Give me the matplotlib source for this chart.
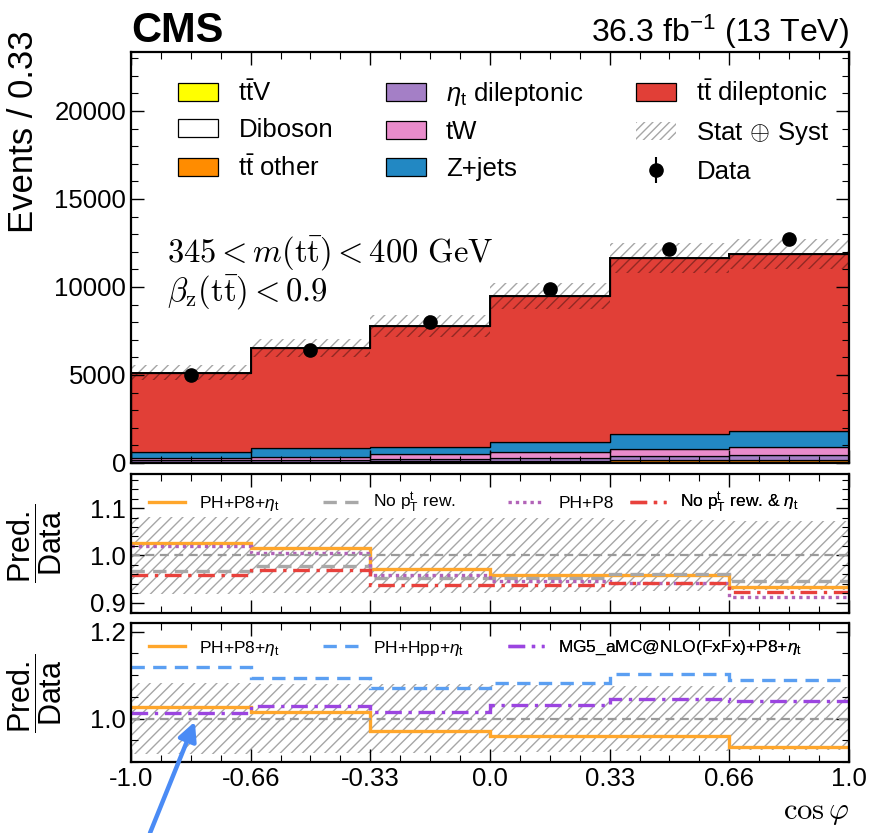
import numpy as np
import matplotlib
matplotlib.use("Agg")
import matplotlib.pyplot as plt
from matplotlib.patches import Patch
from matplotlib.lines import Line2D

# binning in cos(phi)
edges = np.array([-1.0, -2/3, -1/3, 0.0, 1/3, 2/3, 1.0])
tick_labels = ["-1.0", "-0.66", "-0.33", "0.0", "0.33", "0.66", "1.0"]

# stacked backgrounds, events per bin (bottom to top)
ttv = [20, 20, 20, 20, 25, 25]
diboson = [10, 10, 15, 15, 20, 20]
tt_other = [50, 50, 60, 80, 120, 110]
eta_dilep = [80, 100, 130, 170, 230, 300]
tw = [130, 180, 265, 360, 415, 435]
zjets = [320, 475, 430, 570, 835, 945]
tt_dilep = [4515, 5680, 6866, 8280, 10005, 10040]

data = [4990, 6420, 8010, 9890, 12160, 12730]
unc = [0.082, 0.080, 0.080, 0.078, 0.075, 0.073]  # relative stat+syst

# pred / data, upper ratio panel
r_ph_p8_eta = [1.027, 1.015, 0.971, 0.959, 0.959, 0.934]
r_no_pt = [0.966, 0.978, 0.952, 0.952, 0.961, 0.945]
r_ph_p8 = [1.020, 1.005, 0.959, 0.945, 0.942, 0.912]
r_no_pt_eta = [0.959, 0.969, 0.937, 0.937, 0.942, 0.922]

# pred / data, lower ratio panel
r_ph_hpp_eta = [1.118, 1.093, 1.070, 1.082, 1.102, 1.089]
r_mg5_eta = [1.013, 1.028, 1.015, 1.031, 1.046, 1.040]

stack = [
    (ttv, "#FFFF00", r"$\mathrm{t\bar{t}}$V"),
    (diboson, "#FFFFFF", "Diboson"),
    (tt_other, "#FF8C00", r"$\mathrm{t\bar{t}}$ other"),
    (eta_dilep, "#A47FC6", r"$\eta_\mathrm{t}$ dileptonic"),
    (tw, "#E98CCB", "tW"),
    (zjets, "#2288C3", "Z+jets"),
    (tt_dilep, "#E13F37", r"$\mathrm{t\bar{t}}$ dileptonic"),
]

plt.rcParams["font.family"] = ["Liberation Sans", "DejaVu Sans"]
plt.rcParams["mathtext.fontset"] = "custom"
plt.rcParams["mathtext.rm"] = "Liberation Sans"
plt.rcParams["mathtext.it"] = "Liberation Sans:italic"
plt.rcParams["mathtext.bf"] = "Liberation Sans:bold"
plt.rcParams["axes.linewidth"] = 1.6
for ax_name in ["xtick", "ytick"]:
    plt.rcParams[ax_name + ".direction"] = "in"
    plt.rcParams[ax_name + ".major.size"] = 9.5
    plt.rcParams[ax_name + ".minor.size"] = 5
    plt.rcParams[ax_name + ".major.width"] = 1.0
    plt.rcParams[ax_name + ".minor.width"] = 0.8
    plt.rcParams[ax_name + ".labelsize"] = 18.5
plt.rcParams["xtick.top"] = True
plt.rcParams["ytick.right"] = True
plt.rcParams["xtick.minor.visible"] = True
plt.rcParams["ytick.minor.visible"] = True

hatch_col = (0, 0, 0, 0.35)

fig = plt.figure(figsize=(8.71, 8.33), dpi=100)
ax1 = fig.add_axes([0.1504, 0.4442, 0.8243, 0.4934])
ax2 = fig.add_axes([0.1504, 0.2645, 0.8243, 0.1665])
ax3 = fig.add_axes([0.1504, 0.0852, 0.8243, 0.1669])

# --- main panel ---
bottom = np.zeros(len(data))
handles = []
for vals, col, lab in stack:
    top = bottom + np.array(vals)
    ax1.stairs(top, edges, baseline=bottom, fill=True, facecolor=col,
               edgecolor="black", lw=0.9)
    handles.append(Patch(facecolor=col, edgecolor="black", lw=0.9, label=lab))
    bottom = top
mc = bottom
ax1.stairs(mc, edges, color="black", lw=1.4, baseline=None)

u = np.array(unc)
ax1.stairs(mc * (1 + u), edges, baseline=mc * (1 - u), fill=True,
           facecolor="none", edgecolor=hatch_col, hatch="///", lw=0)

centers = 0.5 * (edges[1:] + edges[:-1])
eb = ax1.errorbar(centers, data, yerr=np.sqrt(data), fmt="o", color="black",
                  ms=9.5, elinewidth=1.5, capsize=0)

unc_patch = Patch(facecolor="none", edgecolor=hatch_col, hatch="////", lw=0,
                  label=r"Stat$\,\oplus\,$Syst")
leg_handles = handles[0:3] + handles[3:6] + [handles[6], unc_patch, eb]
leg_labels = [h.get_label() for h in leg_handles[:-1]] + ["Data"]
ax1.legend(leg_handles, leg_labels, ncol=3, loc="upper left",
           bbox_to_anchor=(0.0655, 0.94), frameon=False, fontsize=18.5,
           handlelength=1.55, handleheight=0.7, handletextpad=0.8,
           columnspacing=2.05, labelspacing=0.5, borderpad=0, borderaxespad=0)

ax1.text(0.05, 0.487, r"$345 < m(\mathrm{t\bar{t}}) < 400\ \mathrm{GeV}$",
         transform=ax1.transAxes, fontsize=23.5, math_fontfamily="cm", va="baseline")
ax1.text(0.05, 0.394, r"$\beta_\mathrm{z}(\mathrm{t\bar{t}}) < 0.9$",
         transform=ax1.transAxes, fontsize=23.5, math_fontfamily="cm", va="baseline")

ax1.text(0.0, 1.024, "CMS", transform=ax1.transAxes, fontsize=30,
         fontweight="bold", va="baseline")
ax1.text(1.0, 1.024, r"36.3 fb$^{-1}$ (13 TeV)", transform=ax1.transAxes,
         fontsize=23, ha="right", va="baseline")

ax1.set_ylim(0, 23350)
ax1.set_yticks([0, 5000, 10000, 15000, 20000])
ax1.set_yticks(np.arange(0, 23001, 1000), minor=True)
ax1.set_ylabel("Events / 0.33", fontsize=25)
ax1.yaxis.set_label_coords(-0.127, 0.805)


# --- ratio panels ---
def ratio_band(ax):
    ax.stairs(1 + u, edges, baseline=1 - u, fill=True, facecolor="none",
              edgecolor=hatch_col, hatch="///", lw=0)
    ax.axhline(1.0, color="#9a9a9a", lw=1.6, ls=(0, (4, 2.5)))


def row_legend(ax, lines, labels, xs, y):
    # one legend per entry so the columns sit where the reference has them
    for h, lab, x in zip(lines, labels, xs):
        leg = ax.legend([h], [lab], loc="center left", bbox_to_anchor=(x, y),
                        frameon=False, fontsize=12.5, handlelength=2.1,
                        handletextpad=0.8, borderpad=0, borderaxespad=0)
        ax.add_artist(leg)


styles2 = [("#FFA62B", "-"), ("#A8A8A8", (0, (4, 2.5))),
           ("#B263B8", (0, (1, 1.2))), ("#E8413C", (0, (5, 2, 1, 2)))]
series2 = [r_ph_p8_eta, r_no_pt, r_ph_p8, r_no_pt_eta]
lab2 = [r"PH+P8+$\eta_\mathrm{t}$", r"No $\mathrm{p_T^t}$ rew.", "PH+P8",
        r"No $\mathrm{p_T^t}$ rew. & $\eta_\mathrm{t}$"]

ratio_band(ax2)
h2 = []
for vals, (col, ls) in zip(series2, styles2):
    ax2.stairs(vals, edges, baseline=None, color=col, lw=2.4, ls=ls)
    h2.append(Line2D([], [], color=col, lw=2.4, ls=ls))
row_legend(ax2, h2, lab2, [0.025, 0.267, 0.525, 0.695], 0.79)
ax2.set_ylim(0.879, 1.172)
ax2.set_yticks([0.9, 1.0, 1.1])
ax2.set_yticks(np.arange(0.88, 1.171, 0.02), minor=True)

styles3 = [("#FFA62B", "-"), ("#5B9FF2", (0, (4, 2.5))),
           ("#9B45E0", (0, (5, 2, 1, 2)))]
series3 = [r_ph_p8_eta, r_ph_hpp_eta, r_mg5_eta]
lab3 = [r"PH+P8+$\eta_\mathrm{t}$", r"PH+Hpp+$\eta_\mathrm{t}$",
        r"MG5_aMC@NLO(FxFx)+P8+$\eta_\mathrm{t}$"]

ratio_band(ax3)
h3 = []
for vals, (col, ls) in zip(series3, styles3):
    ax3.stairs(vals, edges, baseline=None, color=col, lw=2.4, ls=ls)
    h3.append(Line2D([], [], color=col, lw=2.4, ls=ls))
row_legend(ax3, h3, lab3, [0.025, 0.267, 0.525], 0.82)
ax3.set_ylim(0.901, 1.22)
ax3.set_yticks([1.0, 1.2])
ax3.set_yticks(np.arange(0.9, 1.221, 0.05), minor=True)

for ax in [ax2, ax3]:
    ax.set_ylabel(r"$\dfrac{\mathrm{Pred.}}{\mathrm{Data}}$", fontsize=22)
    ax.yaxis.set_label_coords(-0.094, 0.5)

for ax in [ax1, ax2, ax3]:
    ax.set_xlim(-1, 1)
    ax.set_xticks(edges)
    ax.set_xticks(np.linspace(-1, 1, 25), minor=True)
    ax.set_xticklabels(tick_labels if ax is ax3 else [])

ax3.set_xlabel(r"$\cos\varphi$", fontsize=22, math_fontfamily="cm", ha="right")
ax3.xaxis.set_label_coords(1.0, -0.25)

# arrow from below the figure pointing at the first bin
ax3.annotate("", xy=(-0.822, 0.993), xycoords="data",
             xytext=(150 / 871, 0.0), textcoords="figure fraction",
             arrowprops=dict(arrowstyle="-|>", color="#4A8BF5", lw=3.2,
                             mutation_scale=28, shrinkA=0, shrinkB=0),
             annotation_clip=False)

fig.savefig("out.png", dpi=100)
